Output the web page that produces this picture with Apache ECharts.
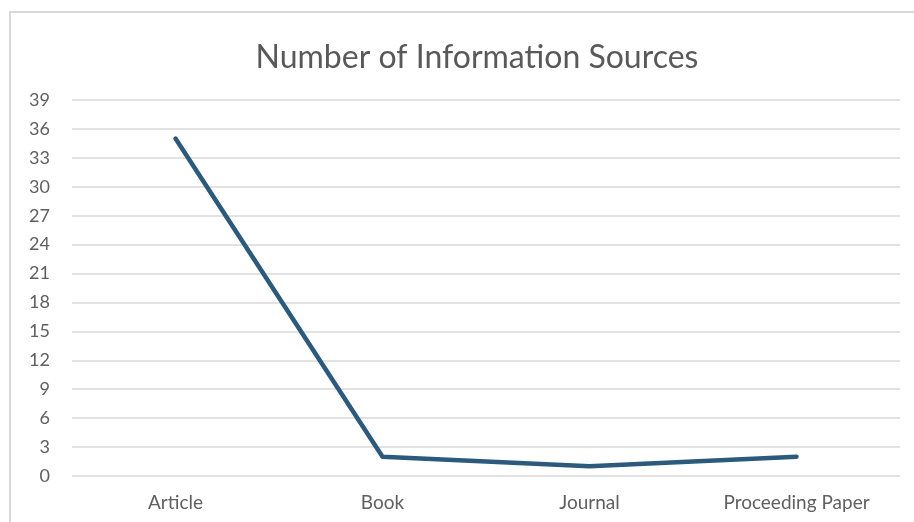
<!DOCTYPE html>
<html>
<head>
<meta charset="utf-8">
<script src="https://cdn.jsdelivr.net/npm/echarts@6/dist/echarts.min.js"></script>
<style>
html,body{margin:0;padding:0;background:#fff;}
#chart{width:914px;height:522px;}
</style>
</head>
<body>
<div id="chart"></div>
<script>
var titleText = 'Number of Information Sources';
var categories = ['Article', 'Book', 'Journal', 'Proceeding Paper'];
var values = [35, 2, 1, 2];
var yMin = 0, yMax = 39, yStep = 3;

var chart = echarts.init(document.getElementById('chart'), null, {renderer: 'canvas'});
chart.setOption({
  backgroundColor: '#ffffff',
  animation: false,
  title: {
    text: titleText,
    left: 472,
    top: 37,
    textAlign: 'center',
    textStyle: {fontFamily: 'Lato', fontSize: 32, fontWeight: 'normal', color: '#595959'}
  },
  graphic: [{
    type: 'rect',
    shape: {x: 10, y: 12, width: 920, height: 530},
    style: {fill: 'none', stroke: '#d9d9d9', lineWidth: 2},
    silent: true
  }],
  grid: {left: 72, right: 14, top: 100, bottom: 46, containLabel: false},
  xAxis: {
    type: 'category',
    data: categories,
    boundaryGap: true,
    axisLine: {show: false},
    axisTick: {show: false},
    axisLabel: {color: '#606060', fontFamily: 'Lato', fontSize: 19, margin: 17}
  },
  yAxis: {
    type: 'value',
    min: yMin, max: yMax, interval: yStep,
    axisLine: {show: false},
    axisTick: {show: false},
    axisLabel: {color: '#606060', fontFamily: 'Lato', fontSize: 18, margin: 22},
    splitLine: {lineStyle: {color: '#d9d9d9', width: 1.5}}
  },
  series: [{
    type: 'line',
    data: values,
    showSymbol: false,
    symbol: 'none',
    lineStyle: {color: '#2b5a7c', width: 4.5, cap: 'round', join: 'round'}
  }]
});
</script>
</body>
</html>
